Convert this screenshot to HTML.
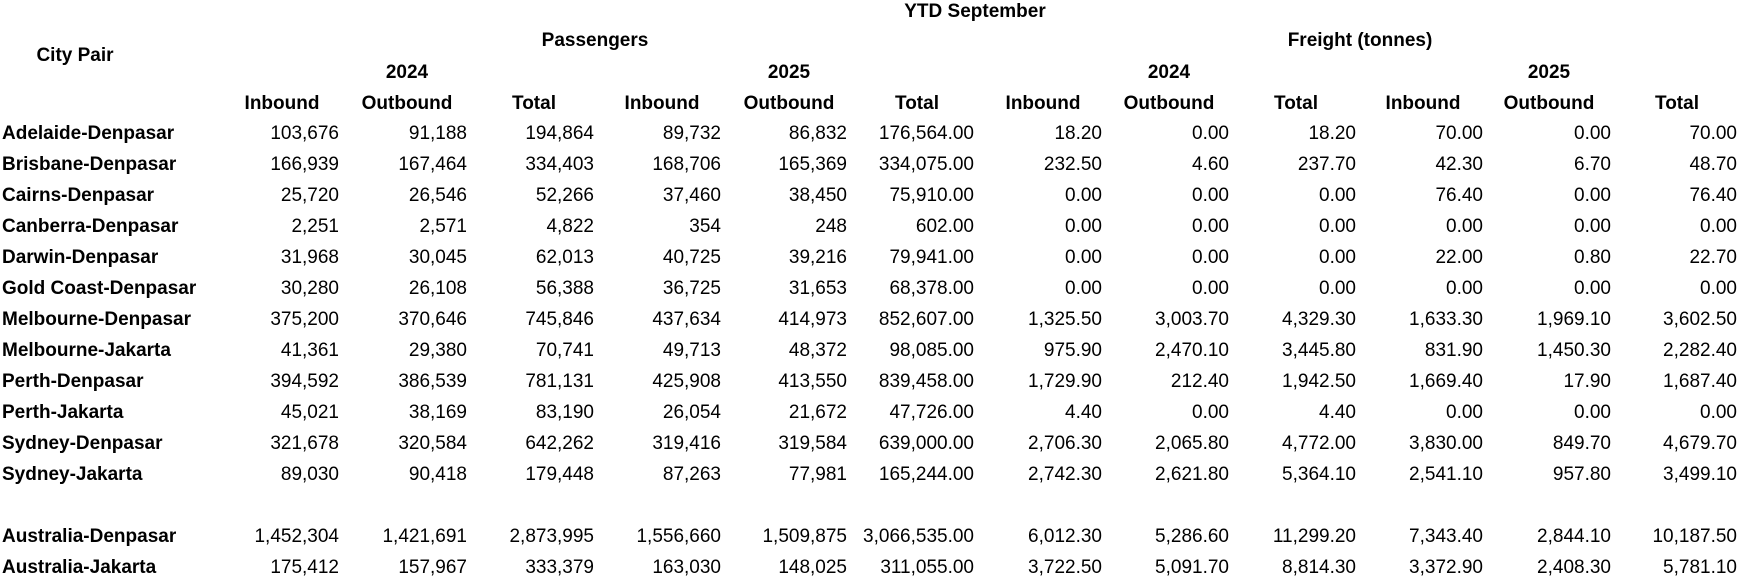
<!DOCTYPE html>
<html><head><meta charset="utf-8"><style>
body{margin:0;width:1740px;height:582px;background:#fff;position:relative;overflow:hidden;font-family:"Liberation Sans",sans-serif;font-size:19px;color:#000}
.r{position:absolute;left:0;width:1740px;height:24px}
.r span{position:absolute;top:0;line-height:24px;text-align:right;width:127px;white-space:nowrap}
.r span:nth-child(1){left:2px;text-align:left;font-weight:bold;width:220px}
.r span:nth-child(2){left:212px}.r span:nth-child(3){left:340px}.r span:nth-child(4){left:467px}
.r span:nth-child(5){left:594px}.r span:nth-child(6){left:720px}.r span:nth-child(7){left:847px}
.r span:nth-child(8){left:975px}.r span:nth-child(9){left:1102px}.r span:nth-child(10){left:1229px}
.r span:nth-child(11){left:1356px}.r span:nth-child(12){left:1484px}.r span:nth-child(13){left:1610px}
.h{position:absolute;font-weight:bold;line-height:24px;text-align:center;white-space:nowrap;transform:translateX(-50%)}
</style></head><body>
<div class="h" style="left:975px;top:0">YTD September</div>
<div class="h" style="left:595px;top:29px">Passengers</div>
<div class="h" style="left:1360px;top:29px">Freight (tonnes)</div>
<div class="h" style="left:75px;top:44px">City Pair</div>
<div class="h" style="left:407px;top:61px">2024</div>
<div class="h" style="left:789px;top:61px">2025</div>
<div class="h" style="left:1169px;top:61px">2024</div>
<div class="h" style="left:1549px;top:61px">2025</div>
<div class="h" style="left:282px;top:92px">Inbound</div>
<div class="h" style="left:407px;top:92px">Outbound</div>
<div class="h" style="left:534px;top:92px">Total</div>
<div class="h" style="left:662px;top:92px">Inbound</div>
<div class="h" style="left:789px;top:92px">Outbound</div>
<div class="h" style="left:917px;top:92px">Total</div>
<div class="h" style="left:1043px;top:92px">Inbound</div>
<div class="h" style="left:1169px;top:92px">Outbound</div>
<div class="h" style="left:1296px;top:92px">Total</div>
<div class="h" style="left:1423px;top:92px">Inbound</div>
<div class="h" style="left:1549px;top:92px">Outbound</div>
<div class="h" style="left:1677px;top:92px">Total</div>

<div class="r" style="top:122px"><span>Adelaide-Denpasar</span><span>103,676</span><span>91,188</span><span>194,864</span><span>89,732</span><span>86,832</span><span>176,564.00</span><span>18.20</span><span>0.00</span><span>18.20</span><span>70.00</span><span>0.00</span><span>70.00</span></div>
<div class="r" style="top:153px"><span>Brisbane-Denpasar</span><span>166,939</span><span>167,464</span><span>334,403</span><span>168,706</span><span>165,369</span><span>334,075.00</span><span>232.50</span><span>4.60</span><span>237.70</span><span>42.30</span><span>6.70</span><span>48.70</span></div>
<div class="r" style="top:184px"><span>Cairns-Denpasar</span><span>25,720</span><span>26,546</span><span>52,266</span><span>37,460</span><span>38,450</span><span>75,910.00</span><span>0.00</span><span>0.00</span><span>0.00</span><span>76.40</span><span>0.00</span><span>76.40</span></div>
<div class="r" style="top:215px"><span>Canberra-Denpasar</span><span>2,251</span><span>2,571</span><span>4,822</span><span>354</span><span>248</span><span>602.00</span><span>0.00</span><span>0.00</span><span>0.00</span><span>0.00</span><span>0.00</span><span>0.00</span></div>
<div class="r" style="top:246px"><span>Darwin-Denpasar</span><span>31,968</span><span>30,045</span><span>62,013</span><span>40,725</span><span>39,216</span><span>79,941.00</span><span>0.00</span><span>0.00</span><span>0.00</span><span>22.00</span><span>0.80</span><span>22.70</span></div>
<div class="r" style="top:277px"><span>Gold Coast-Denpasar</span><span>30,280</span><span>26,108</span><span>56,388</span><span>36,725</span><span>31,653</span><span>68,378.00</span><span>0.00</span><span>0.00</span><span>0.00</span><span>0.00</span><span>0.00</span><span>0.00</span></div>
<div class="r" style="top:308px"><span>Melbourne-Denpasar</span><span>375,200</span><span>370,646</span><span>745,846</span><span>437,634</span><span>414,973</span><span>852,607.00</span><span>1,325.50</span><span>3,003.70</span><span>4,329.30</span><span>1,633.30</span><span>1,969.10</span><span>3,602.50</span></div>
<div class="r" style="top:339px"><span>Melbourne-Jakarta</span><span>41,361</span><span>29,380</span><span>70,741</span><span>49,713</span><span>48,372</span><span>98,085.00</span><span>975.90</span><span>2,470.10</span><span>3,445.80</span><span>831.90</span><span>1,450.30</span><span>2,282.40</span></div>
<div class="r" style="top:370px"><span>Perth-Denpasar</span><span>394,592</span><span>386,539</span><span>781,131</span><span>425,908</span><span>413,550</span><span>839,458.00</span><span>1,729.90</span><span>212.40</span><span>1,942.50</span><span>1,669.40</span><span>17.90</span><span>1,687.40</span></div>
<div class="r" style="top:401px"><span>Perth-Jakarta</span><span>45,021</span><span>38,169</span><span>83,190</span><span>26,054</span><span>21,672</span><span>47,726.00</span><span>4.40</span><span>0.00</span><span>4.40</span><span>0.00</span><span>0.00</span><span>0.00</span></div>
<div class="r" style="top:432px"><span>Sydney-Denpasar</span><span>321,678</span><span>320,584</span><span>642,262</span><span>319,416</span><span>319,584</span><span>639,000.00</span><span>2,706.30</span><span>2,065.80</span><span>4,772.00</span><span>3,830.00</span><span>849.70</span><span>4,679.70</span></div>
<div class="r" style="top:463px"><span>Sydney-Jakarta</span><span>89,030</span><span>90,418</span><span>179,448</span><span>87,263</span><span>77,981</span><span>165,244.00</span><span>2,742.30</span><span>2,621.80</span><span>5,364.10</span><span>2,541.10</span><span>957.80</span><span>3,499.10</span></div>
<div class="r" style="top:525px"><span>Australia-Denpasar</span><span>1,452,304</span><span>1,421,691</span><span>2,873,995</span><span>1,556,660</span><span>1,509,875</span><span>3,066,535.00</span><span>6,012.30</span><span>5,286.60</span><span>11,299.20</span><span>7,343.40</span><span>2,844.10</span><span>10,187.50</span></div>
<div class="r" style="top:556px"><span>Australia-Jakarta</span><span>175,412</span><span>157,967</span><span>333,379</span><span>163,030</span><span>148,025</span><span>311,055.00</span><span>3,722.50</span><span>5,091.70</span><span>8,814.30</span><span>3,372.90</span><span>2,408.30</span><span>5,781.10</span></div>
</body></html>
